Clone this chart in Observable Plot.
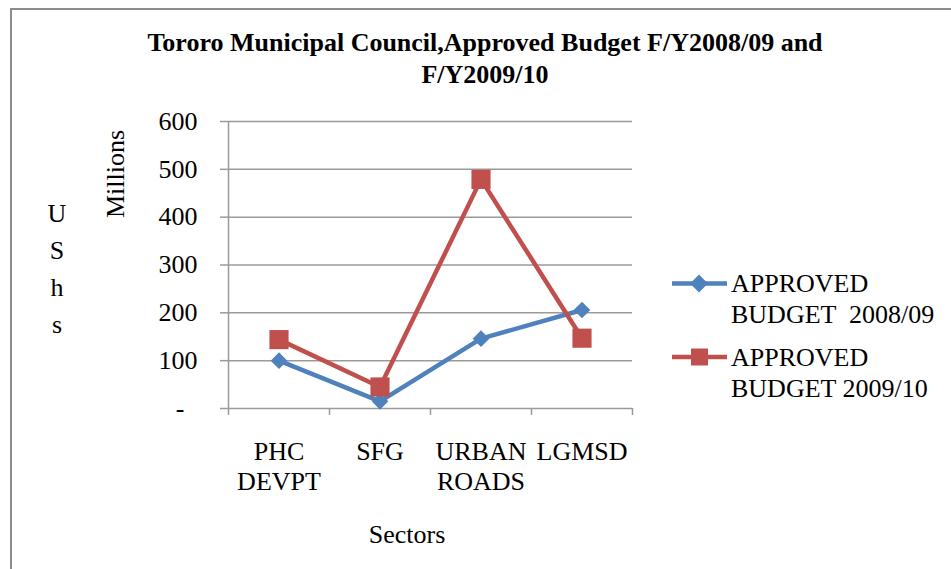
<!DOCTYPE html>
<html><head><meta charset="utf-8">
<script src="https://cdn.jsdelivr.net/npm/d3@7"></script>
<script src="https://cdn.jsdelivr.net/npm/@observablehq/plot@0.6"></script>
<style>
body{margin:0;background:#fff;}
#wrap{position:relative;width:951px;height:569px;overflow:hidden;font-family:"Liberation Serif","Times New Roman",serif;color:#000;background:#fff;}
.abs{position:absolute;white-space:pre;}
</style></head><body>
<div id="wrap"></div>
<script>
const sectors = ["PHC\nDEVPT", "SFG", "URBAN\nROADS", "LGMSD"];
const budget2008 = [100, 15, 146, 206];
const budget2009 = [144, 45, 479, 147];
const yTicks = [0, 100, 200, 300, 400, 500, 600];
const seriesNames = ["APPROVED\nBUDGET  2008/09", "APPROVED\nBUDGET 2009/10"];
const colors = ["#4F81BD", "#C0504D"];
const titleLines = ["Tororo Municipal Council,Approved Budget F/Y2008/09 and", "F/Y2009/10"];

const rows2008 = sectors.map((s, i) => ({sector: s, i: i + 0.5, v: budget2008[i]}));
const rows2009 = sectors.map((s, i) => ({sector: s, i: i + 0.5, v: budget2009[i]}));
const bounds = d3.range(sectors.length + 1);

const wrap = document.getElementById("wrap");
const FONT = '"Liberation Serif","Times New Roman",serif';

const chart = Plot.plot({
  width: 951, height: 569,
  marginLeft: 228, marginRight: 319, marginTop: 121, marginBottom: 161,
  x: {domain: [0, sectors.length], axis: null},
  y: {domain: [0, 600], axis: null},
  style: {fontFamily: FONT, fontSize: "26px", background: "transparent", color: "#000"},
  marks: [
    Plot.gridY(yTicks, {stroke: "#9a9a9a", strokeOpacity: 1, strokeWidth: 1.5}),
    Plot.axisY({ticks: yTicks, tickSize: 8, tickPadding: 23, tickFormat: d => d === 0 ? "-\u2007" : String(d),
      stroke: "#9a9a9a", strokeWidth: 1.5, fill: "#000", fontSize: 26, label: null}),
    Plot.ruleX([0], {stroke: "#9a9a9a", strokeWidth: 1.5}),
    Plot.axisX({ticks: bounds, tickSize: 7, tickFormat: () => "", stroke: "#9a9a9a", strokeWidth: 1.5, label: null}),
    Plot.text(sectors, {x: (d, i) => i + 0.5, y: () => 0, text: d => d, lineAnchor: "top", dy: 30,
      lineHeight: 1.154, fontSize: 26, fill: "#000"}),
    Plot.line(rows2008, {x: "i", y: "v", stroke: colors[0], strokeWidth: 4.5}),
    Plot.dot(rows2008, {x: "i", y: "v", symbol: "diamond2", r: 7.5, fill: colors[0], stroke: "none"}),
    Plot.line(rows2009, {x: "i", y: "v", stroke: colors[1], strokeWidth: 4.5}),
    Plot.dot(rows2009, {x: "i", y: "v", symbol: "square", r: 10.8, fill: colors[1], stroke: "none"})
  ]
});
chart.style.position = "absolute";
chart.style.left = "0px";
chart.style.top = "0px";
wrap.appendChild(chart);

function addDiv(text, css) {
  const d = document.createElement("div");
  d.className = "abs";
  d.textContent = text;
  Object.assign(d.style, css);
  wrap.appendChild(d);
  return d;
}

// chart border
addDiv("", {left: "10px", top: "8px", width: "980px", height: "620px", border: "2px solid #8c8c8c", boxSizing: "border-box"});

// title
addDiv(titleLines.join("\n"), {left: "0px", top: "27px", width: "970px", textAlign: "center",
  fontWeight: "bold", fontSize: "26px", lineHeight: "32px"});

// y axis labels
addDiv("Millions", {left: "116px", top: "174px", fontSize: "26px", lineHeight: "26px",
  transform: "translate(-50%,-50%) rotate(-90deg)"});
addDiv("U\nS\nh\ns", {left: "37px", top: "195px", width: "40px", textAlign: "center", fontSize: "26px", lineHeight: "37px"});

// x axis title
addDiv("Sectors", {left: "407px", top: "520px", fontSize: "26px", lineHeight: "30px", transform: "translateX(-50%)"});

// legend
const legTops = [268, 341.5];
const legSvg = d3.create("svg").attr("width", 80).attr("height", 160)
  .style("position", "absolute").style("left", "660px").style("top", "250px");
seriesNames.forEach((name, k) => {
  const cy = legTops[k] + 15.5 - 250;
  legSvg.append("line").attr("x1", 12).attr("x2", 67).attr("y1", cy).attr("y2", cy)
    .attr("stroke", colors[k]).attr("stroke-width", 4.5);
  if (k === 0) {
    legSvg.append("path").attr("d", d3.symbol(d3.symbolDiamond2, Math.PI * 8 * 8)())
      .attr("transform", `translate(39,${cy})`).attr("fill", colors[k]);
  } else {
    legSvg.append("rect").attr("x", 31).attr("y", cy - 8.5).attr("width", 17).attr("height", 17).attr("fill", colors[k]);
  }
  addDiv(name, {left: "731px", top: legTops[k] + "px", fontSize: "26px", lineHeight: "31px"});
});
wrap.appendChild(legSvg.node());
</script>
</body></html>
